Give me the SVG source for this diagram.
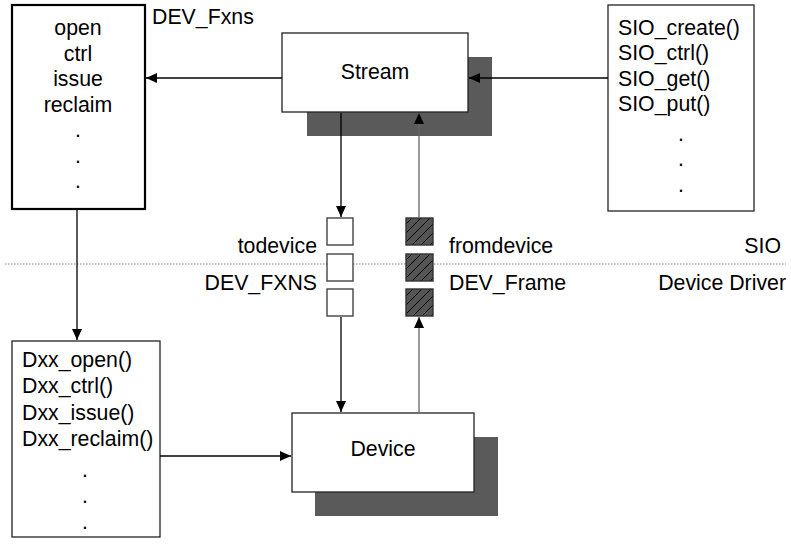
<svg xmlns="http://www.w3.org/2000/svg" width="791" height="548" viewBox="0 0 791 548">
<style>
text{font-family:"Liberation Sans",Arial,sans-serif;font-size:21.3px;fill:#000}
.box{fill:#fff;stroke:#222;stroke-width:1.3}
.thick{fill:#fff;stroke:#000;stroke-width:2.2}
.shadow{fill:#5a5a5a}
.small{fill:#fff;stroke:#444;stroke-width:1.4}
.hatch{fill:url(#hp);stroke:#333;stroke-width:1.4}
.c{text-anchor:middle}
.e{text-anchor:end}
.conn line{stroke:#000;stroke-width:1.3}
.conn line.g{stroke:#666}
</style>
<defs>
<marker id="ah" markerUnits="userSpaceOnUse" markerWidth="12" markerHeight="10" refX="11" refY="5" orient="auto">
<path d="M0,0 L11,5 L0,10 Z" fill="#000"/>
</marker>
<pattern id="hp" patternUnits="userSpaceOnUse" width="9" height="9">
<rect width="9" height="9" fill="#555"/>
<path d="M-1,1 L1,-1 M0,9 L9,0 M8,10 L10,8" stroke="#000" stroke-width="1"/>
</pattern>
</defs>

<line x1="5" y1="264" x2="786" y2="264" stroke="#888" stroke-width="1" stroke-dasharray="1.5,1.5"/>

<g id="devfxns">
<rect class="thick" x="12" y="5" width="133" height="204"/>
<text class="c" x="78" y="35">open</text>
<text class="c" x="78" y="60.5">ctrl</text>
<text class="c" x="78" y="86">issue</text>
<text class="c" x="78" y="111.5">reclaim</text>
<text class="c" x="78" y="137">.</text>
<text class="c" x="78" y="162.5">.</text>
<text class="c" x="78" y="188">.</text>
</g>
<text id="lbl-devfxns" x="152" y="24">DEV_Fxns</text>

<g id="stream">
<rect class="shadow" x="307" y="57" width="185" height="79"/>
<rect class="box" x="282" y="33" width="186" height="79"/>
<text class="c" x="375" y="79">Stream</text>
</g>

<g id="sio">
<rect class="box" x="608" y="5" width="146" height="206"/>
<text x="618" y="35">SIO_create()</text>
<text x="618" y="60">SIO_ctrl()</text>
<text x="618" y="85.5">SIO_get()</text>
<text x="618" y="111">SIO_put()</text>
<text class="c" x="681" y="141">.</text>
<text class="c" x="681" y="166">.</text>
<text class="c" x="681" y="192">.</text>
</g>

<g id="todevice">
<rect class="small" x="327" y="218" width="26" height="27"/>
<rect class="small" x="327" y="254" width="26" height="27"/>
<rect class="small" x="327" y="289" width="26" height="27"/>
</g>
<g id="fromdevice">
<rect class="hatch" x="406" y="218" width="27" height="27"/>
<rect class="hatch" x="406" y="254" width="27" height="27"/>
<rect class="hatch" x="406" y="289" width="27" height="27"/>
</g>

<text class="e" x="317" y="253">todevice</text>
<text class="e" x="317" y="290">DEV_FXNS</text>
<text x="449" y="253">fromdevice</text>
<text x="449" y="290">DEV_Frame</text>
<text class="e" x="781" y="253">SIO</text>
<text class="e" x="786" y="290">Device Driver</text>

<g id="dxx">
<rect class="box" x="12" y="341" width="148" height="196"/>
<text x="22" y="367">Dxx_open()</text>
<text x="22" y="393">Dxx_ctrl()</text>
<text x="22" y="419.5">Dxx_issue()</text>
<text x="22" y="446">Dxx_reclaim()</text>
<text class="c" x="85" y="477">.</text>
<text class="c" x="85" y="503">.</text>
<text class="c" x="85" y="529">.</text>
</g>

<g id="device">
<rect class="shadow" x="315" y="437" width="183" height="79"/>
<rect class="box" x="292" y="413" width="182" height="79"/>
<text class="c" x="383" y="456">Device</text>
</g>

<g class="conn" id="connectors">
<line x1="282" y1="78" x2="146" y2="78" marker-end="url(#ah)"/>
<line x1="608" y1="78" x2="469" y2="78" marker-end="url(#ah)"/>
<line x1="341" y1="113" x2="341" y2="217" marker-end="url(#ah)"/>
<line x1="341" y1="317" x2="341" y2="412" marker-end="url(#ah)"/>
<line class="g" x1="419" y1="412" x2="419" y2="317" marker-end="url(#ah)"/>
<line class="g" x1="419" y1="217" x2="419" y2="113" marker-end="url(#ah)"/>
<line x1="77" y1="210" x2="77" y2="340" marker-end="url(#ah)"/>
<line x1="160" y1="456" x2="291" y2="456" marker-end="url(#ah)"/>
</g>
</svg>
